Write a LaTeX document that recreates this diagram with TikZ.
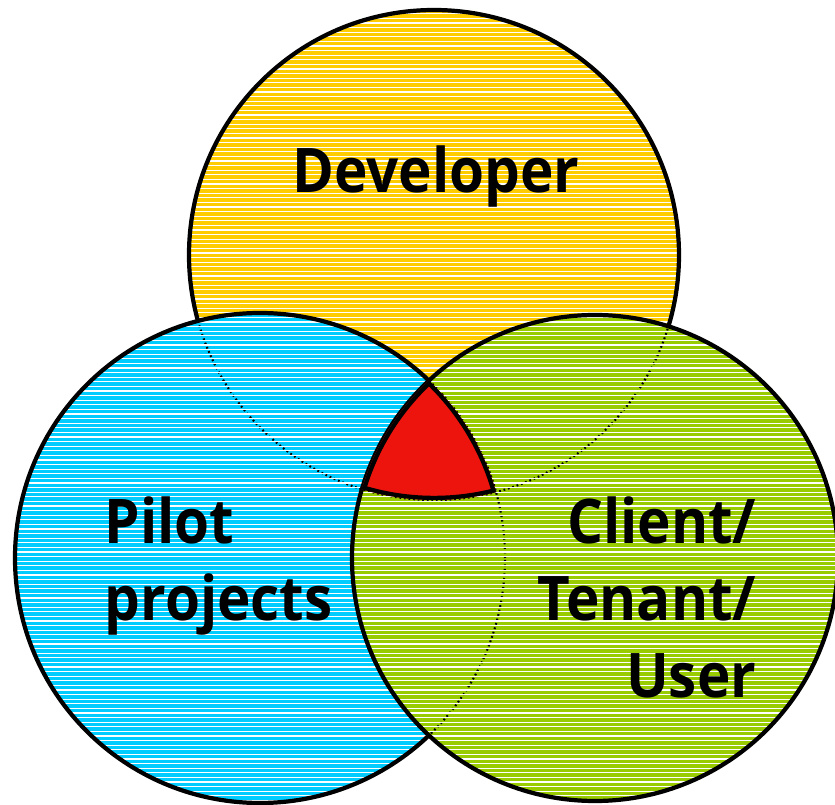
\documentclass[tikz,border=0pt]{standalone}
\usepackage{fontspec}
\setmainfont{Open Sans}[FakeStretch=0.92]
\definecolor{devyellow}{RGB}{255,204,0}
\definecolor{pilblue}{RGB}{0,204,255}
\definecolor{cligreen}{RGB}{153,204,0}
\definecolor{common}{RGB}{238,20,14}
\tikzset{
  rim/.style={line width=1.2pt},
  hidden/.style={line width=0.6pt, dash pattern=on 0.5pt off 0.8pt},
  stripe/.style={white, line width=0.35pt},
  venntext/.style={font=\bfseries\fontsize{17.5}{21.9}\selectfont, inner sep=0pt}
}
\begin{document}
\begin{tikzpicture}[x=0.01cm,y=0.01cm]
\useasboundingbox (0,0) rectangle (835,805);
\coordinate (dev) at (434,550);
\coordinate (pil) at (260,247);
\coordinate (cli) at (595,247);

% developer
\fill[devyellow] (dev) circle[radius=245];
\begin{scope}
\clip (dev) circle[radius=245];
\foreach \k in {0,...,175} \draw[stripe] (0,\k*4.6) -- (835,\k*4.6);
\end{scope}
\draw[rim] (dev) circle[radius=245];

% pilot projects
\fill[pilblue] (pil) circle[radius=245];
\begin{scope}
\clip (pil) circle[radius=245];
\draw[hidden] (dev) circle[radius=245];
\foreach \k in {0,...,175} \draw[stripe] (0,\k*4.6) -- (835,\k*4.6);
\end{scope}
\draw[rim] (pil) circle[radius=245];

% client
\fill[cligreen] (cli) circle[radius=243];
\begin{scope}
\clip (cli) circle[radius=243];
\draw[hidden] (dev) circle[radius=245];
\draw[hidden] (pil) circle[radius=245];
\foreach \k in {0,...,175} \draw[stripe] (0,\k*4.6) -- (835,\k*4.6);
\end{scope}
\draw[rim] (cli) circle[radius=243];

% common part
\begin{scope}
\clip (dev) circle[radius=245];
\clip (pil) circle[radius=245];
\clip (cli) circle[radius=243];
\fill[common] (0,0) rectangle (835,805);
\draw[rim, line width=2.4pt] (dev) circle[radius=245];
\draw[rim, line width=2.4pt] (pil) circle[radius=245];
\draw[rim, line width=2.4pt] (cli) circle[radius=243];
\end{scope}

\node[venntext, anchor=base] (developer) at (436,613) {Developer};
\node[venntext, align=left, anchor=north west] (pilot) at (104,309) {Pilot\\projects};
\node[venntext, align=right, anchor=north east] (client) at (757,309) {Client/\hspace{0.13cm}\\Tenant/\\User\hspace{0.03cm}};
\end{tikzpicture}
\end{document}
